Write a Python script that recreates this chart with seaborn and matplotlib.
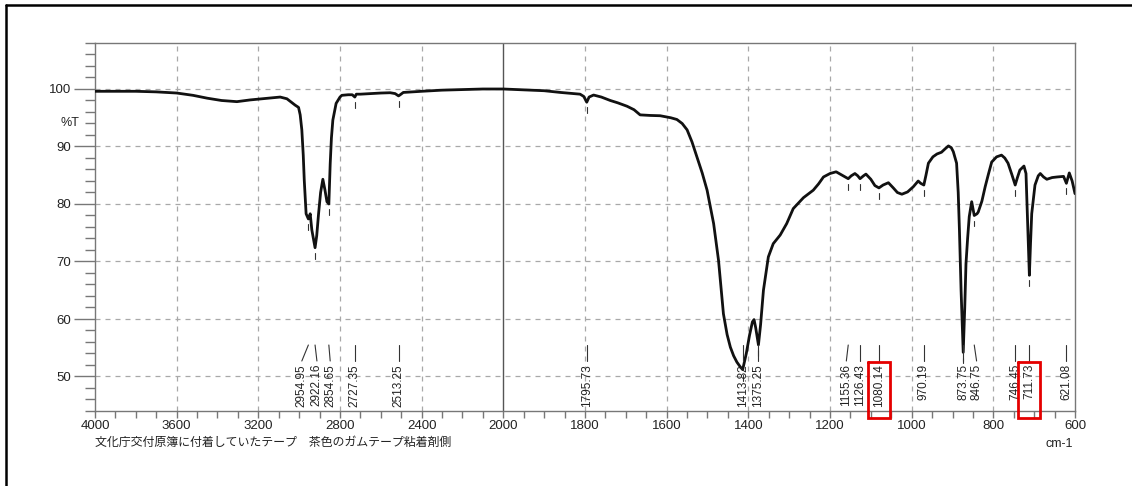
import numpy as np
import pandas as pd
import matplotlib
matplotlib.use("Agg")
import matplotlib.pyplot as plt
import matplotlib.transforms as mtransforms
from matplotlib.lines import Line2D
from matplotlib.ticker import FixedLocator, MultipleLocator, FixedFormatter
import seaborn as sns

# ---- IR spectrum (ATR), wavenumber in cm-1, transmittance in %T ----
wavenumber = [
    4000, 3900, 3800, 3700, 3600, 3520, 3450, 3380, 3305, 3240, 3150, 3093, 3060,
    3035, 3020, 3003, 2995, 2987, 2980, 2975, 2966, 2954.95, 2950, 2946, 2938,
    2922.16, 2914, 2905, 2895, 2884, 2874, 2864, 2854.65, 2848, 2842, 2835, 2819,
    2800, 2791, 2760, 2740, 2727.35, 2720, 2700, 2600, 2554, 2530, 2513.25, 2505,
    2490, 2400, 2300, 2200, 2100, 2000, 1900, 1860, 1812, 1803, 1795.73, 1790,
    1779, 1760, 1738, 1720, 1697, 1680, 1665, 1640, 1616, 1590, 1575, 1562, 1550,
    1538, 1526, 1513, 1501, 1485, 1473, 1461, 1452, 1444, 1436, 1428, 1420,
    1413.82, 1405, 1397, 1390, 1386, 1382, 1375.25, 1370, 1363, 1351, 1339, 1330,
    1322, 1306, 1290, 1265, 1241, 1228, 1216, 1200, 1185, 1170, 1155.36, 1148,
    1139, 1132, 1126.43, 1118, 1112, 1100, 1090, 1080.14, 1070, 1057, 1045, 1035,
    1024, 1010, 996, 984, 978, 970.19, 965, 959, 948, 938, 927, 918, 910, 903,
    898, 890, 886, 883, 879, 873.75, 870, 867, 863, 859, 853, 846.75, 840, 837,
    828, 820, 812, 804, 792, 780, 772, 764, 755, 746.45, 741, 735, 725, 720, 716,
    711.73, 709, 706, 698, 690, 685, 677, 669, 656, 644, 628, 621.08, 614, 607,
    600,
]
transmittance = [
    99.6, 99.6, 99.6, 99.5, 99.3, 98.9, 98.4, 98.0, 97.8, 98.1, 98.4, 98.6, 98.3,
    97.6, 97.2, 96.8, 95.5, 92.9, 88.5, 84.1, 78.3, 77.4, 77.8, 78.3, 75.5,
    72.4, 74.5, 78.3, 82.0, 84.3, 82.5, 80.4, 80.0, 87.0, 91.5, 94.6, 97.5,
    98.6, 98.9, 99.0, 99.0, 98.6, 99.1, 99.1, 99.3, 99.35, 99.2, 98.8, 99.0,
    99.4, 99.6, 99.8, 99.9, 100.0, 100.0, 99.7, 99.4, 99.1, 98.7, 97.7, 98.6,
    98.95, 98.6, 98.0, 97.6, 97.0, 96.4, 95.5, 95.4, 95.35, 95.0, 94.7, 94.0, 92.9,
    90.8, 88.2, 85.4, 82.4, 76.6, 70.2, 60.9, 57.3, 55.1, 53.6, 52.5, 51.7,
    51.2, 54.0, 57.2, 59.5, 59.9, 58.5, 55.5, 59.0, 65.0, 70.8, 73.1, 73.9,
    74.6, 76.6, 79.2, 81.1, 82.4, 83.5, 84.7, 85.3, 85.6, 85.0, 84.4, 84.9,
    85.3, 84.9, 84.4, 84.9, 85.2, 84.3, 83.2, 82.8, 83.3, 83.7, 82.8, 82.0,
    81.7, 82.1, 83.0, 84.0, 83.6, 83.3, 85.0, 87.1, 88.2, 88.7, 89.0, 89.6, 90.1, 89.8,
    89.1, 87.1, 82.0, 75.4, 65.0, 54.2, 62.0, 69.6, 74.0, 77.8, 80.4, 78.0, 78.3, 78.6,
    80.5, 83.0, 85.2, 87.3, 88.2, 88.5, 88.0, 87.1, 85.2, 83.3, 84.6, 85.9, 86.6, 85.3, 77.0,
    67.6, 73.0, 78.3, 83.3, 84.9, 85.3, 84.7, 84.3, 84.6, 84.7, 84.8, 83.6, 85.4, 84.0,
    81.8,
]

# Picked peaks
peak_labels = ["2954.95", "2922.16", "2854.65", "2727.35", "2513.25", "1795.73",
               "1413.82", "1375.25", "1155.36", "1126.43", "1080.14", "970.19",
               "873.75", "846.75", "746.45", "711.73", "621.08"]
highlighted_peaks = ["1080.14", "711.73"]

# Where crowded peak labels are moved to (cm-1)
label_shift = {"2954.95": 2987, "2922.16": 2913, "2854.65": 2848,
               "1155.36": 1160, "846.75": 841}

x_major_ticks = [4000, 3600, 3200, 2800, 2400, 2000, 1800, 1600, 1400, 1200, 1000, 800, 600]
y_major_ticks = [50, 60, 70, 80, 90, 100]
sample_title = "文化庁交付原簿に付着していたテープ　茶色のガムテープ粘着剤側"
x_unit = "cm-1"
y_unit = "%T"


# Wavenumber axis: 4000-2000 compressed to half the scale of 2000-600
def fwd(w):
    w = np.asarray(w, dtype=float)
    return np.where(w > 2000, 2000 + (w - 2000) / 2.0, w)


def inv(u):
    u = np.asarray(u, dtype=float)
    return np.where(u > 2000, 2000 + (u - 2000) * 2.0, u)


sns.set_theme(style="ticks")
plt.rcParams["font.family"] = ["Liberation Sans", "Noto Sans CJK JP", "DejaVu Sans"]

W, H = 1132, 486
fig = plt.figure(figsize=(W / 100, H / 100), dpi=100)
fig.patch.set_facecolor("white")
ax = fig.add_axes([95 / W, 1 - 411 / H, (1075 - 95) / W, (411 - 43) / H])

df = pd.DataFrame({"wavenumber": wavenumber, "T": transmittance})
sns.lineplot(data=df, x="wavenumber", y="T", ax=ax, color="#111111",
             linewidth=2.0, sort=False, estimator=None, zorder=5)

ax.set_xscale("function", functions=(fwd, inv))
ax.set_xlim(4000, 600)
ax.set_ylim(44, 108)
ax.set_xlabel("")
ax.set_ylabel("")

minor_x = list(range(4000, 2000, -100)) + list(range(2000, 549, -50))
ax.xaxis.set_major_locator(FixedLocator(x_major_ticks))
ax.xaxis.set_major_formatter(FixedFormatter([str(t) for t in x_major_ticks]))
ax.xaxis.set_minor_locator(FixedLocator(minor_x))
ax.yaxis.set_major_locator(FixedLocator(y_major_ticks))
ax.yaxis.set_minor_locator(MultipleLocator(2))

spine_c = "#777777"
for s in ax.spines.values():
    s.set_color(spine_c)
    s.set_linewidth(1.0)
ax.tick_params(axis="x", which="major", direction="out", length=5, width=1.0,
               color=spine_c, labelsize=9.5, pad=1.5, labelcolor="#222222")
ax.tick_params(axis="x", which="minor", direction="out", length=5, width=1.0, color=spine_c)
ax.tick_params(axis="y", which="major", direction="out", length=15, width=1.0,
               color=spine_c, labelsize=9.5, pad=2, labelcolor="#222222")
ax.tick_params(axis="y", which="minor", direction="out", length=7, width=1.0, color=spine_c)

# Dashed grid, solid divider at the scale change
for t in x_major_ticks[1:-1]:
    if t != 2000:
        ax.axvline(t, color="#a8a8a8", lw=0.9, ls=(0, (4, 4)), zorder=1)
for t in y_major_ticks:
    ax.axhline(t, color="#a8a8a8", lw=0.9, ls=(0, (4, 4)), zorder=1)
ax.axvline(2000, color="#555555", lw=1.0, zorder=2)

# Peak annotations
blend = mtransforms.blended_transform_factory(ax.transData, ax.transAxes)
wn_rev = np.asarray(wavenumber)[::-1]
tr_rev = np.asarray(transmittance)[::-1]


def ax_y(px):
    return (411 - px) / (411 - 43)


for lab in peak_labels:
    pk = float(lab)
    lx = label_shift.get(lab, pk)
    t_pk = np.interp(pk, wn_rev, tr_rev)
    ax.plot([pk, pk], [t_pk - 0.9, t_pk - 1.9], color="#333333", lw=0.8, zorder=6)
    ax.plot([pk, lx], [ax_y(345), ax_y(361)], transform=blend, color="#333333",
            lw=0.8, clip_on=False, zorder=6)
    ax.text(lx, ax_y(364), lab, transform=blend, rotation=90, ha="center", va="top",
            fontsize=8.5, color="#222222", zorder=6)
    if lab in highlighted_peaks:
        hw = 27
        xs = [pk + hw, pk - hw, pk - hw, pk + hw, pk + hw]
        ys = [ax_y(361.5), ax_y(361.5), ax_y(417.5), ax_y(417.5), ax_y(361.5)]
        ax.plot(xs, ys, transform=blend, color="#e50000", lw=2.0, clip_on=False,
                zorder=7, solid_joinstyle="miter")

fig.text(70 / W, 1 - 123 / H, y_unit, ha="center", va="center", fontsize=9, color="#222222")
fig.text(1059 / W, 1 - 444 / H, x_unit, ha="center", va="center", fontsize=9, color="#222222")
fig.text(95 / W, 1 - 442 / H, sample_title, ha="left", va="center", fontsize=8.6,
         color="#222222", family=["Noto Sans CJK JP", "DejaVu Sans"])

# Outer frame of the sheet
fig.add_artist(Line2D([5.5 / W, 5.5 / W], [0, 1 - 5.5 / H], transform=fig.transFigure,
                      color="black", lw=1.8))
fig.add_artist(Line2D([5.5 / W, 1], [1 - 5.5 / H, 1 - 5.5 / H], transform=fig.transFigure,
                      color="black", lw=1.8))

fig.savefig("out.png", dpi=100)
